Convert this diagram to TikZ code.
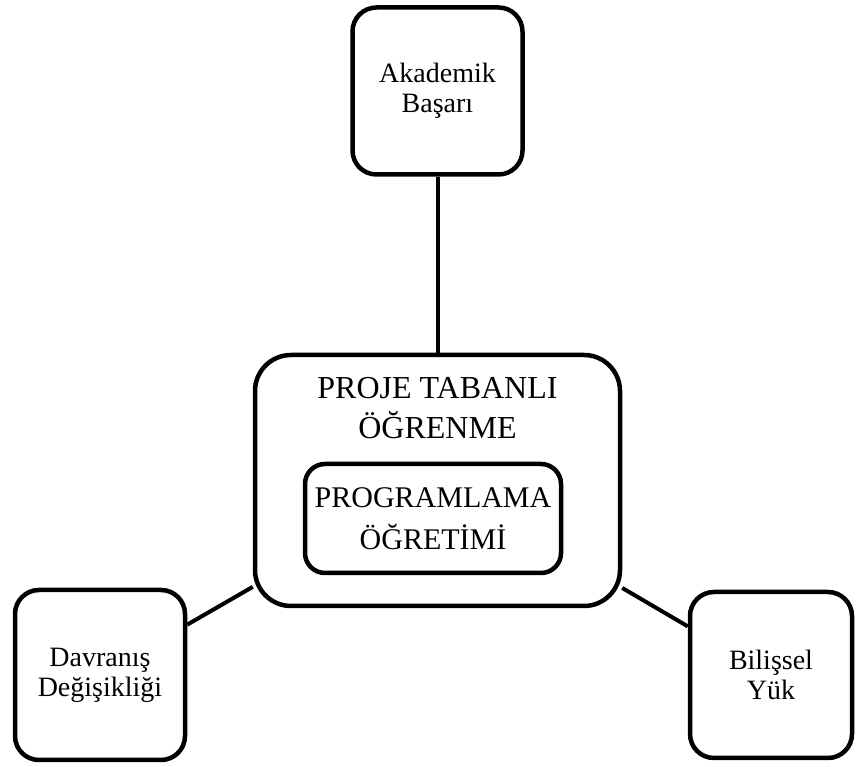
\documentclass[tikz,border=0pt]{standalone}
\usepackage{fontspec}
\setmainfont{Liberation Serif}
\begin{document}
\begin{tikzpicture}[x=1pt,y=1pt,
        kutu/.style={draw,line width=4.5pt,rounded corners=24pt,align=center,inner sep=0pt,font=\fontsize{28}{30}\selectfont},
        baglanti/.style={line width=4pt}]
    \useasboundingbox (0,0) rectangle (856,767);
    \node[kutu,minimum width=170pt,minimum height=167pt] (akademik) at (437.5,676) {Akademik\\Başarı};
    \node[kutu,minimum width=365pt,minimum height=251pt,rounded corners=36pt] (pbl) at (437.5,286.5) {};
    \node[align=center,font=\fontsize{32}{40}\selectfont] (pblbaslik) at (437.5,359) {PROJE TABANLI\\ÖĞRENME};
    \node[kutu,minimum width=256pt,minimum height=109pt,rounded corners=20pt,font=\fontsize{30}{42}\selectfont] (programlama) at (433,248.5) {PROGRAMLAMA\\ÖĞRETİMİ};
    \node[kutu,minimum width=170pt,minimum height=170pt] (davranis) at (100,92) {Davranış\\Değişikliği};
    \node[kutu,minimum width=162pt,minimum height=166pt] (bilissel) at (771,92) {Bilişsel\\Yük};
    \draw[baglanti] (akademik) -- (pbl);
    \draw[baglanti] (davranis) -- (pbl);
    \draw[baglanti] (bilissel) -- (pbl);
\end{tikzpicture}
\end{document}
